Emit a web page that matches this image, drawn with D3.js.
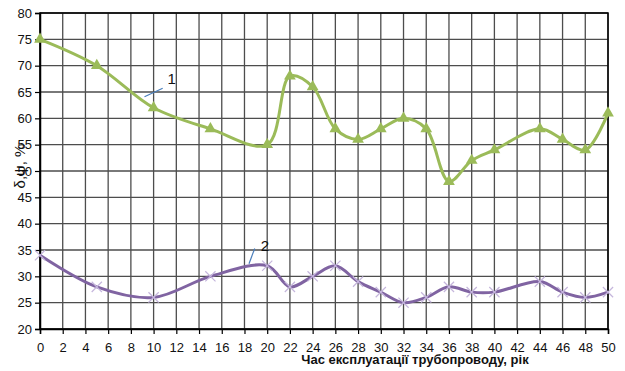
<!DOCTYPE html>
<html>
<head>
<meta charset="utf-8">
<script src="https://cdn.jsdelivr.net/npm/d3@7"></script>
<style>
    body { margin: 0; background: #fff; }
    svg { display: block; }
</style>
</head>
<body>
<svg id="chart" width="625" height="371"></svg>
<script>
// years of operation
const years = [0, 5, 10, 15, 20, 22, 24, 26, 28, 30, 32, 34, 36, 38, 40, 44, 46, 48, 50];
// curve 1 (delta)
const series1 = [75, 70, 62, 58, 55, 68, 66, 58, 56, 58, 60, 58, 48, 52, 54, 58, 56, 54, 61];
// curve 2 (psi)
const series2 = [34, 28, 26, 30, 32, 28, 30, 32, 29, 27, 25, 26, 28, 27, 27, 29, 27, 26, 27];

const xTicks = d3.range(0, 51, 2);
const yTicks = d3.range(20, 81, 5);

const margin = { top: 13, right: 17, bottom: 42, left: 40 };
const width = 625, height = 371;

const svg = d3.select("#chart");
const x = d3.scaleLinear().domain([0, 50]).range([margin.left, width - margin.right]);
const y = d3.scaleLinear().domain([20, 80]).range([height - margin.bottom, margin.top]);

// grid
svg.append("g")
    .selectAll("line.v")
    .data(xTicks)
    .enter().append("line")
    .attr("x1", d => x(d)).attr("x2", d => x(d))
    .attr("y1", y(20)).attr("y2", y(80))
    .attr("stroke", "#4d4d4d").attr("stroke-width", 1.3);

svg.append("g")
    .selectAll("line.h")
    .data(yTicks)
    .enter().append("line")
    .attr("x1", x(0)).attr("x2", x(50))
    .attr("y1", d => y(d)).attr("y2", d => y(d))
    .attr("stroke", "#4d4d4d").attr("stroke-width", 1.3);

// axes
const xAxis = svg.append("g")
    .attr("transform", `translate(0,${y(20)})`)
    .call(d3.axisBottom(x).tickValues(xTicks).tickSize(5).tickPadding(9));
const yAxis = svg.append("g")
    .attr("transform", `translate(${x(0)},0)`)
    .call(d3.axisLeft(y).tickValues(yTicks).tickSize(5).tickPadding(3));

[xAxis, yAxis].forEach(g => {
    g.select(".domain").attr("stroke", "#000").attr("stroke-width", 1.5);
    g.selectAll(".tick line").attr("stroke", "#000").attr("stroke-width", 1.2);
    g.selectAll(".tick text")
        .attr("fill", "#111")
        .style("font-family", "'Liberation Sans', Arial, sans-serif")
        .style("font-size", "13px");
});

// frame
svg.append("rect")
    .attr("x", x(0)).attr("y", y(80))
    .attr("width", x(50) - x(0)).attr("height", y(20) - y(80))
    .attr("fill", "none").attr("stroke", "#000").attr("stroke-width", 1.5);

const line = d3.line()
    .x((d, i) => x(years[i]))
    .y(d => y(d))
    .curve(d3.curveCatmullRom.alpha(0.5));

// curve 1
svg.append("path")
    .datum(series1)
    .attr("d", line)
    .attr("fill", "none")
    .attr("stroke", "#9bbb59")
    .attr("stroke-width", 3);

svg.append("g")
    .selectAll("path")
    .data(series1)
    .enter().append("path")
    .attr("d", d3.symbol().type(d3.symbolTriangle).size(60))
    .attr("transform", (d, i) => `translate(${x(years[i])},${y(d)})`)
    .attr("fill", "#9bbb59");

// curve 2
svg.append("path")
    .datum(series2)
    .attr("d", line)
    .attr("fill", "none")
    .attr("stroke", "#8064a2")
    .attr("stroke-width", 3);

svg.append("g")
    .selectAll("path")
    .data(series2)
    .enter().append("path")
    .attr("d", d3.symbol().type(d3.symbolX).size(70))
    .attr("transform", (d, i) => `translate(${x(years[i])},${y(d)})`)
    .attr("fill", "none")
    .attr("stroke", "#c5b6dc")
    .attr("stroke-width", 1.2);

// curve labels with leaders
const labels = [
    { text: "1", tx: 11.6, ty: 67.6, from: [9.2, 64.1], to: [10.8, 65.7] },
    { text: "2", tx: 19.8, ty: 35.9, from: [18.4, 32.4], to: [18.9, 35.3] }
];
labels.forEach(l => {
    svg.append("line")
        .attr("x1", x(l.from[0])).attr("y1", y(l.from[1]))
        .attr("x2", x(l.to[0])).attr("y2", y(l.to[1]))
        .attr("stroke", "#4a7ebb").attr("stroke-width", 1.2);
    svg.append("text")
        .attr("x", x(l.tx)).attr("y", y(l.ty))
        .attr("dy", "0.35em")
        .attr("text-anchor", "middle")
        .style("font-family", "'Liberation Sans', Arial, sans-serif")
        .style("font-size", "15px")
        .attr("fill", "#111")
        .text(l.text);
});

// axis titles
svg.append("text")
    .attr("transform", "translate(20,166) rotate(-90)")
    .attr("text-anchor", "middle")
    .attr("dy", "0.35em")
    .style("font-family", "'Liberation Sans', Arial, sans-serif")
    .style("font-size", "15px")
    .attr("fill", "#111")
    .text("δ,ψ, %");

svg.append("text")
    .attr("x", 415).attr("y", 359)
    .attr("dy", "0.35em")
    .attr("text-anchor", "middle")
    .style("font-family", "'Liberation Sans', Arial, sans-serif")
    .style("font-size", "13px")
    .style("font-weight", "bold")
    .attr("fill", "#111")
    .text("Час експлуатації трубопроводу, рік");
</script>
</body>
</html>
